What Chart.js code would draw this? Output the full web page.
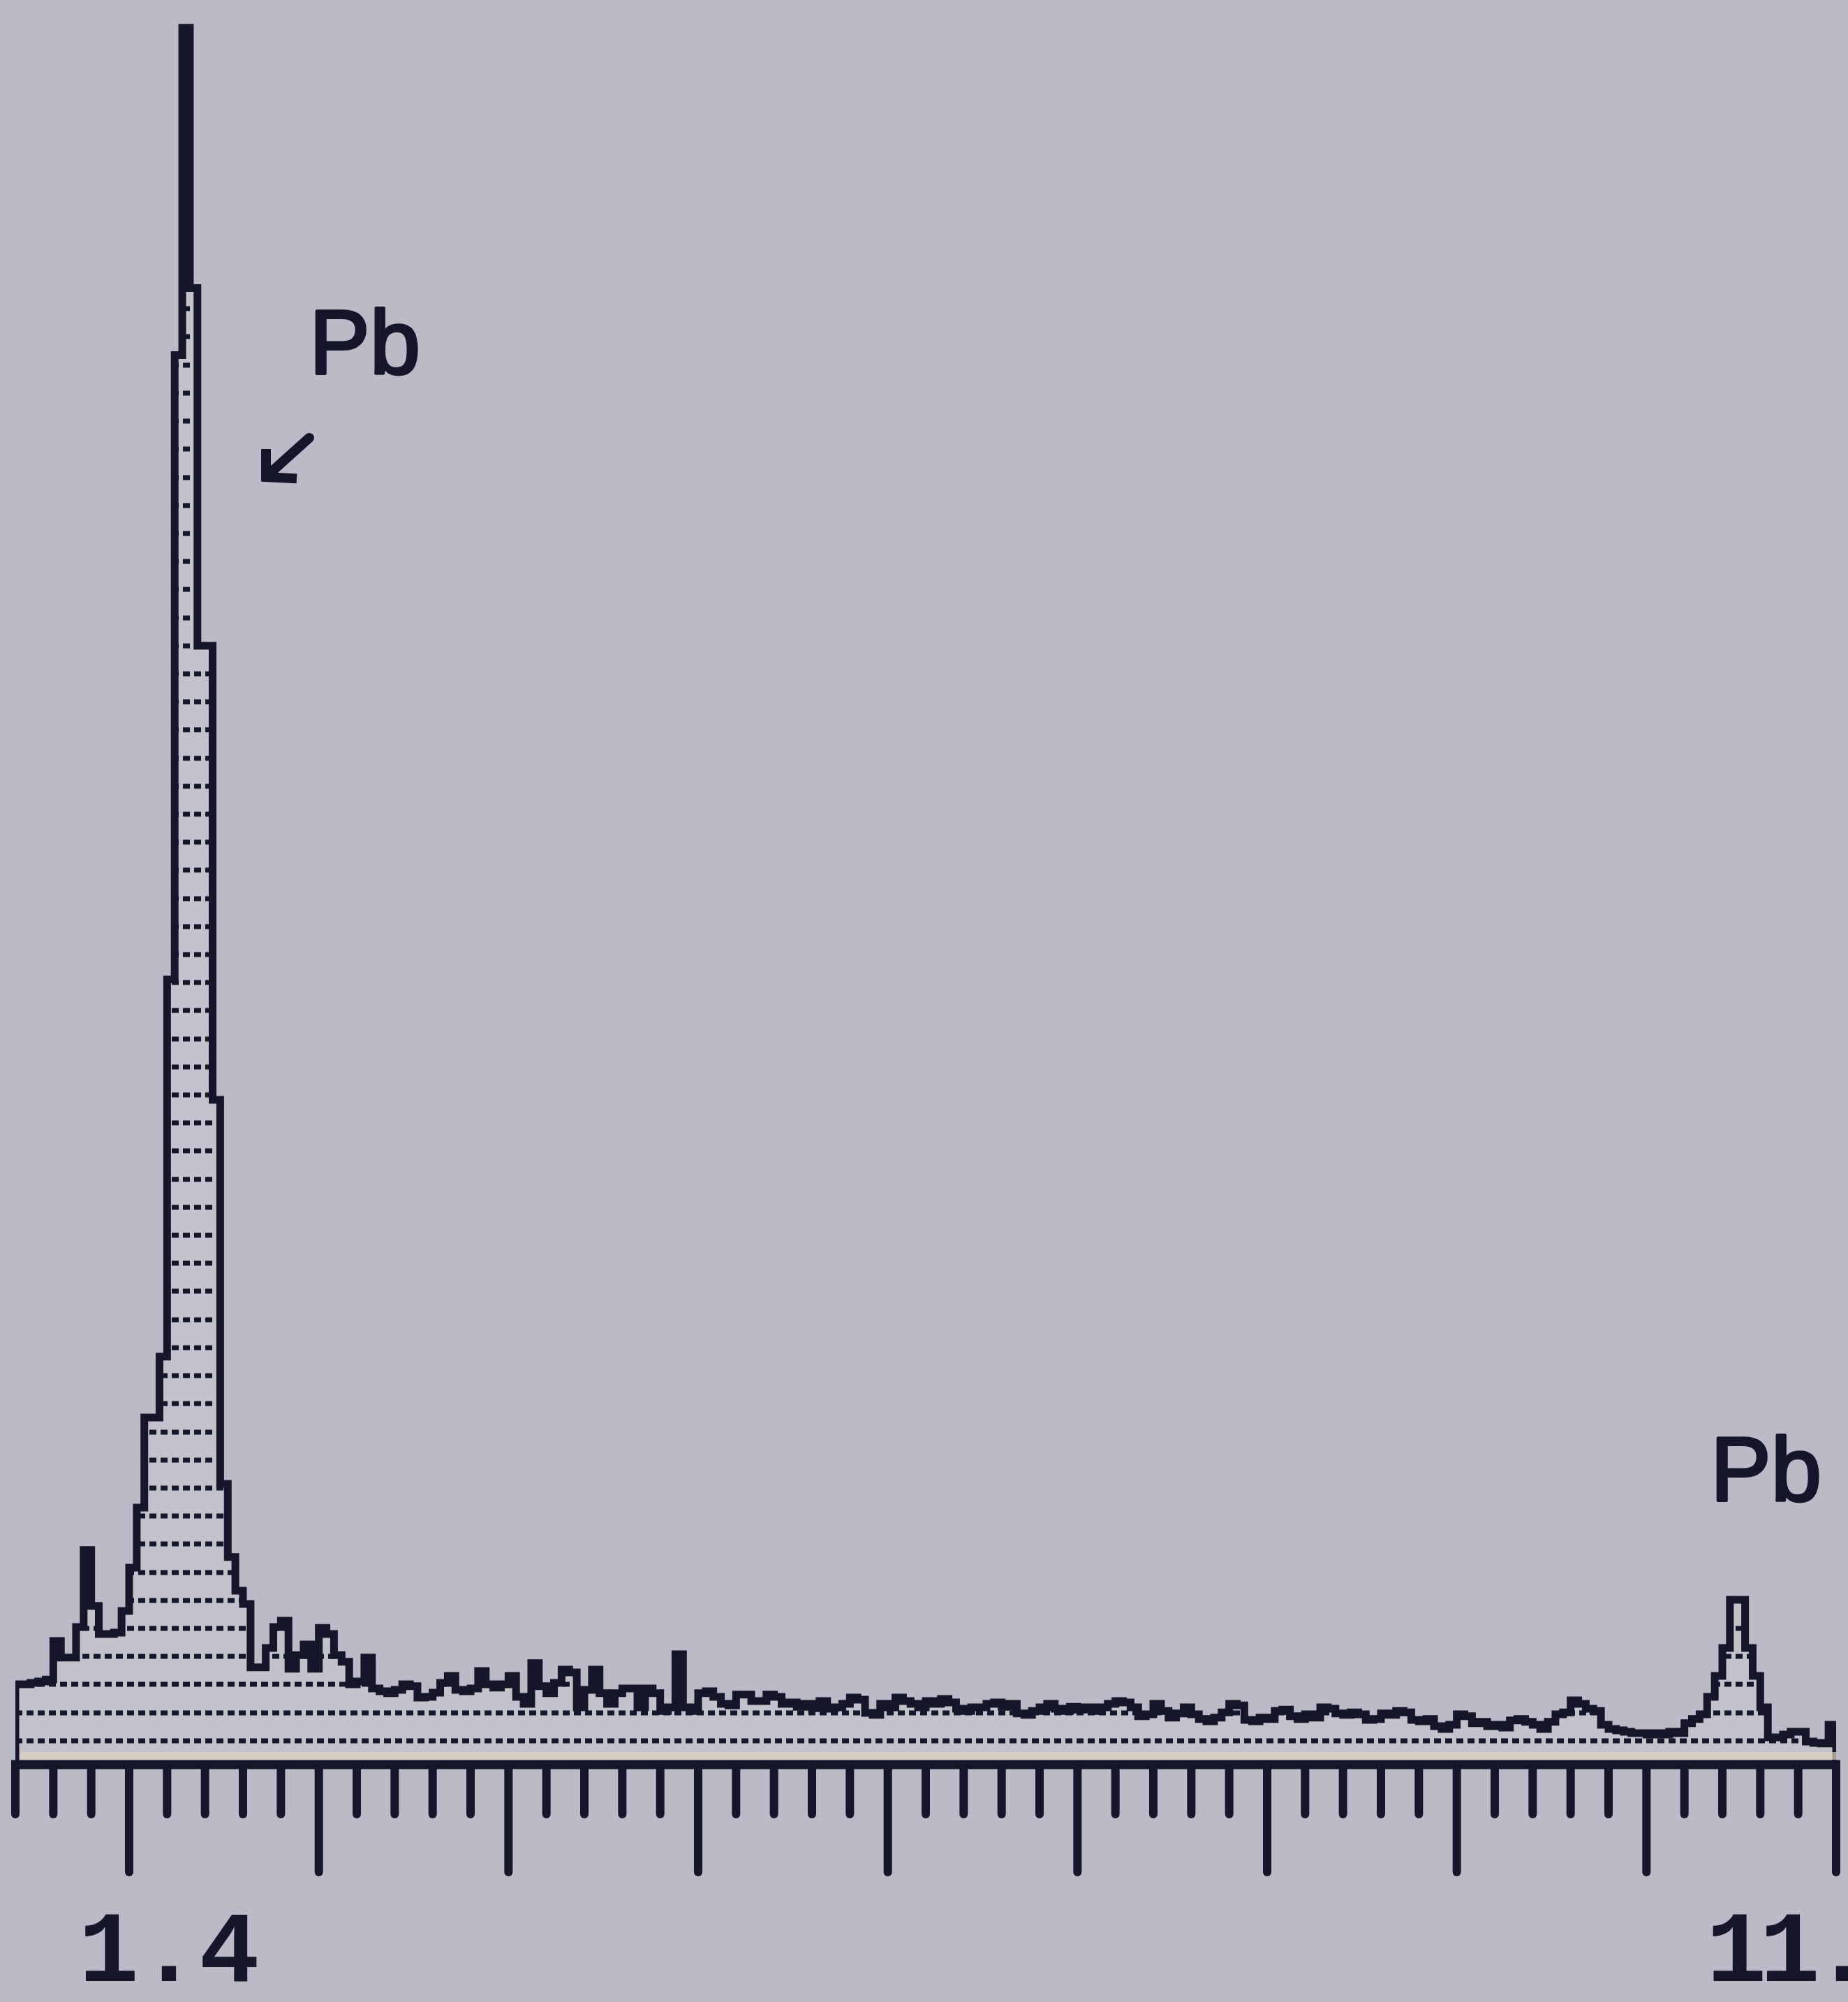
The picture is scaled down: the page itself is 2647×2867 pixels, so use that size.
<!DOCTYPE html>
<html lang="en">
<head>
    <meta charset="UTF-8">
    <title>EDS spectrum - Pb</title>
    <script src="https://cdn.jsdelivr.net/npm/chart.js"></script>
    <style>
        html, body { margin: 0; padding: 0; background: #bbbac6; }
        #wrap { width: 2647px; height: 2867px; }
    </style>
</head>
<body>
    <div id="wrap"><canvas id="spectrum" width="2647" height="2867"></canvas></div>

    <script>
        // Energy calibration of the channels (keV)
        const channelStart = 1.4;
        const channelWidth = 0.04;
        const axisMin = 1.4;
        const axisMax = 11.0;
        const minorTickStep = 0.2;

        // Counts per channel, 1.40 - 11.00 keV
        const counts = [
            301, 301, 306, 311, 318, 455, 396, 396, 505, 779, 580, 480, 480, 485, 562, 716, 930, 1251, 1251, 1468,
            2811, 5035, 6201, 5274, 4000, 4000, 2383, 1015, 754, 634, 587, 361, 361, 430, 505, 527, 356, 405, 443, 356,
            502, 480, 405, 381, 301, 311, 396, 286, 276, 269, 281, 301, 294, 254, 256, 271, 306, 331, 281, 276,
            286, 348, 301, 289, 301, 331, 256, 231, 376, 294, 269, 306, 353, 343, 219, 281, 353, 269, 231, 269,
            286, 286, 219, 286, 269, 206, 219, 408, 219, 206, 269, 276, 256, 231, 226, 264, 264, 241, 241, 264,
            256, 231, 236, 221, 231, 216, 241, 214, 219, 231, 254, 246, 199, 192, 231, 219, 254, 241, 231, 219,
            241, 231, 249, 236, 214, 206, 219, 219, 231, 236, 221, 231, 197, 192, 206, 219, 231, 214, 206, 221,
            211, 219, 206, 219, 231, 241, 236, 219, 187, 194, 231, 206, 182, 197, 219, 194, 177, 169, 182, 201,
            231, 226, 174, 169, 182, 177, 206, 211, 187, 177, 194, 182, 219, 214, 197, 192, 201, 194, 174, 177,
            197, 192, 206, 201, 174, 169, 177, 152, 142, 157, 194, 187, 162, 167, 152, 157, 147, 172, 177, 167,
            157, 142, 167, 194, 201, 244, 231, 214, 206, 157, 142, 137, 132, 127, 127, 122, 127, 122, 132, 127,
            162, 177, 194, 256, 331, 430, 602, 602, 430, 331, 219, 112, 112, 122, 132, 132, 97, 92, 90, 157
        ];

        const peakLabels = ['Pb', 'Pb'];
        const rangeLabels = ['1.4', '11.'];
        const hatchStep = 100;   // counts between the dotted fill lines
        const countsMax = 6300;

        const ink = '#16162a';

        // Histogram outline: each channel becomes a flat top between its two edges
        const outline = [{ x: channelStart, y: 0 }];
        counts.forEach((c, i) => {
            outline.push({ x: channelStart + i * channelWidth, y: c });
            outline.push({ x: channelStart + (i + 1) * channelWidth, y: c });
        });
        outline.push({ x: channelStart + counts.length * channelWidth, y: 0 });

        // Dotted horizontal lines inside the filled area
        const hatchPlugin = {
            id: 'hatch',
            afterDatasetsDraw(chart) {
                const pts = chart.getDatasetMeta(0).data;
                const { ctx, chartArea } = chart;
                const yScale = chart.scales.y;
                const base = yScale.getPixelForValue(0);

                ctx.save();
                ctx.beginPath();
                ctx.moveTo(pts[0].x, base);
                pts.forEach(p => ctx.lineTo(p.x, p.y));
                ctx.lineTo(pts[pts.length - 1].x, base);
                ctx.closePath();
                ctx.clip();

                ctx.strokeStyle = ink;
                ctx.lineWidth = 7;
                ctx.setLineDash([10, 6]);
                for (let v = hatchStep; v < countsMax; v += hatchStep) {
                    const py = Math.round(yScale.getPixelForValue(v));
                    ctx.beginPath();
                    ctx.moveTo(chartArea.left, py);
                    ctx.lineTo(chartArea.right, py);
                    ctx.stroke();
                }
                ctx.restore();
            }
        };

        // Energy axis with long ticks at whole keV, labels and peak markers
        const axisPlugin = {
            id: 'energyAxis',
            afterDraw(chart) {
                const { ctx, chartArea } = chart;
                const xScale = chart.scales.x;
                const axisY = chartArea.bottom - 6;

                ctx.save();

                // light band just above the baseline
                ctx.fillStyle = 'rgba(222, 212, 186, 0.7)';
                ctx.fillRect(chartArea.left + 7, axisY - 18, chartArea.right - chartArea.left - 7, 11);

                ctx.strokeStyle = ink;
                ctx.lineWidth = 13;
                ctx.lineCap = 'butt';
                ctx.beginPath();
                ctx.moveTo(chartArea.left - 6, axisY);
                ctx.lineTo(chartArea.right + 6, axisY);
                ctx.stroke();

                ctx.lineWidth = 12;
                ctx.lineCap = 'round';
                xScale.ticks.forEach(t => {
                    const px = xScale.getPixelForValue(t.value);
                    const major = Math.abs(t.value - Math.round(t.value)) < 1e-6;
                    ctx.beginPath();
                    ctx.moveTo(px, axisY);
                    ctx.lineTo(px, axisY + (major ? 154 : 71));
                    ctx.stroke();
                });

                // range labels under the axis
                ctx.fillStyle = ink;
                ctx.font = 'bold 144px "Liberation Mono", "DejaVu Sans Mono", monospace';
                ctx.textBaseline = 'alphabetic';
                ctx.textAlign = 'center';
                ctx.fillText(rangeLabels[0], 242, 2837);
                ctx.textAlign = 'left';
                ctx.letterSpacing = '-10px';
                ctx.fillText(rangeLabels[1], 2444, 2837);
                ctx.letterSpacing = '0px';

                // element labels, thickened a little with an outline
                ctx.font = '130px "Liberation Sans", Arial, sans-serif';
                ctx.lineWidth = 4;
                ctx.lineJoin = 'round';
                [[peakLabels[0], 443, 535], [peakLabels[1], 2450, 2149]].forEach(([txt, lx, ly]) => {
                    ctx.fillText(txt, lx, ly);
                    ctx.strokeText(txt, lx, ly);
                });

                // arrow pointing at the main peak
                ctx.lineWidth = 14;
                ctx.lineCap = 'round';
                ctx.lineJoin = 'miter';
                ctx.beginPath();
                ctx.moveTo(443, 627);
                ctx.lineTo(384, 680);
                ctx.stroke();
                ctx.lineCap = 'square';
                ctx.beginPath();
                ctx.moveTo(381, 650);
                ctx.lineTo(381, 683);
                ctx.lineTo(418, 685);
                ctx.stroke();

                ctx.restore();
            }
        };

        new Chart(document.getElementById('spectrum'), {
            type: 'line',
            data: {
                datasets: [{
                    data: outline,
                    borderColor: ink,
                    borderWidth: 11,
                    borderJoinStyle: 'miter',
                    backgroundColor: '#c3c1c9',
                    fill: 'origin',
                    pointRadius: 0,
                    tension: 0
                }]
            },
            options: {
                responsive: false,
                animation: false,
                devicePixelRatio: 1,
                layout: { padding: { left: 22, right: 17, top: 0, bottom: 334 } },
                plugins: {
                    legend: { display: false },
                    tooltip: { enabled: false }
                },
                scales: {
                    x: {
                        type: 'linear',
                        min: axisMin,
                        max: axisMax,
                        ticks: { display: false, stepSize: minorTickStep },
                        grid: { display: false, drawTicks: false },
                        border: { display: false }
                    },
                    y: {
                        display: false,
                        min: 0,
                        max: countsMax
                    }
                }
            },
            plugins: [hatchPlugin, axisPlugin]
        });
    </script>
</body>
</html>
